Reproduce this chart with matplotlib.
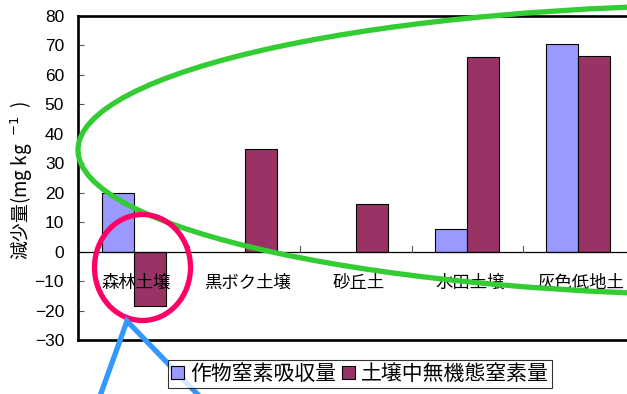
import matplotlib.pyplot as plt
from matplotlib.patches import Ellipse
import numpy as np

plt.rcParams['font.family'] = ['Noto Sans CJK JP', 'DejaVu Sans']

soils = ['森林土壌', '黒ボク土壌', '砂丘土', '水田土壌', '灰色低地土']
crop_uptake = [20, 0, 0, 7.7, 70.5]          # 作物窒素吸収量
soil_inorganic = [-18.5, 35, 16.3, 66, 66.4]  # 土壌中無機態窒素量
series_names = ['作物窒素吸収量', '土壌中無機態窒素量']
y_ticks = list(range(-30, 81, 10))

W, H = 627, 394
fig = plt.figure(figsize=(W / 100, H / 100), dpi=100)
# plot area runs a little past the right edge of the figure
ax = fig.add_axes([78 / W, 1 - 340 / H, (634 - 78) / W, 324 / H])

x = np.arange(len(soils))
bw = 0.288
b1 = ax.bar(x - bw / 2, crop_uptake, bw, color='#9999ff', edgecolor='black', linewidth=0.8)
b2 = ax.bar(x + bw / 2, soil_inorganic, bw, color='#993366', edgecolor='black', linewidth=0.8)
# empty bars are not drawn at all
for rect, v in zip(b1, crop_uptake):
    if v == 0:
        rect.set_visible(False)

ax.set_xlim(-0.5, len(soils) - 0.5)
ax.set_ylim(-30, 80)
ax.set_yticks(y_ticks)
ax.set_yticklabels([str(t).replace('-', '\u2212') for t in y_ticks],
                   fontfamily='Liberation Sans', fontsize=12.5)
ax.tick_params(axis='y', direction='in', length=4, width=0.8, color='#555555', pad=10)
ax.set_xticks([])

# category axis sits at zero with small divider ticks
ax.axhline(0, color='black', linewidth=0.9)
for xb in np.arange(0.5, len(soils) - 0.5):
    ax.plot([xb, xb], [0, 2], color='#555555', linewidth=0.8)
for i, name in enumerate(soils):
    ax.annotate(name, (i, 0), xytext=(2, -22.5), textcoords='offset points',
                ha='center', va='center', fontsize=12.5)

for side in ['left', 'top', 'bottom']:
    ax.spines[side].set_linewidth(1.9)
ax.spines['right'].set_visible(False)

fig.text(22 / W, 1 - 180 / H, '減少量(mg kg  $^{-1}$  )', rotation=90,
         ha='center', va='center', fontsize=13.5)

leg = fig.legend([b1, b2], series_names, loc='center',
                 bbox_to_anchor=(360 / W, 1 - 374 / H), ncol=2, fontsize=15,
                 frameon=True, fancybox=False, edgecolor='black',
                 handlelength=0.6, handleheight=0.6, handletextpad=0.3,
                 columnspacing=0.3, borderpad=0.15, borderaxespad=0)
leg.get_frame().set_linewidth(0.8)

# highlight marks drawn over the chart
ov = fig.add_axes([0, 0, 1, 1], facecolor='none')
ov.set_xlim(0, W)
ov.set_ylim(H, 0)
ov.axis('off')
ov.add_patch(Ellipse((755, 150), 1354, 291, fill=False, edgecolor='#33cc33', linewidth=3.8))
ov.add_patch(Ellipse((142.5, 267.5), 96, 106, fill=False, edgecolor='#ff0066', linewidth=3.8))
ov.plot([95, 127, 205], [410, 321, 402], color='#3399ff', linewidth=3.8,
        solid_joinstyle='miter')

fig.savefig('out.png', dpi=100)
